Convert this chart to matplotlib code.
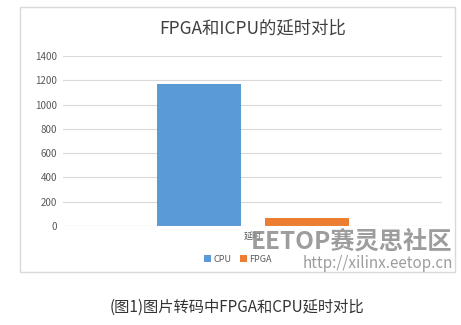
import matplotlib
matplotlib.use("Agg")
from matplotlib import pyplot as plt
from matplotlib.patches import Rectangle

plt.rcParams['font.family'] = ['Noto Sans CJK SC', 'DejaVu Sans']

category = ["延时"]
series = ["CPU", "FPGA"]
values = [1170, 65]
colors = ["#5b9bd5", "#ed7d31"]
yticks = [0, 200, 400, 600, 800, 1000, 1200, 1400]

W, H = 461, 325
fig = plt.figure(figsize=(W / 100, H / 100), dpi=100)

# chart frame
fig.patches.append(Rectangle((20 / W, 1 - 272 / H), 435 / W, 265 / H,
                             transform=fig.transFigure, fill=False,
                             edgecolor="#d9d9d9", linewidth=1))

ax = fig.add_axes([63 / W, 1 - 226 / H, 379 / W, 170 / H])
offsets = [-0.142, 0.143]
for name, v, c, off in zip(series, values, colors, offsets):
    ax.bar(0 + off, v, width=0.222, color=c, label=name, zorder=2)

ax.set_xlim(-0.5, 0.5)
ax.set_ylim(0, 1400)
ax.set_yticks(yticks)
ax.set_yticklabels([str(t) for t in yticks], fontsize=7, color="#595959")
ax.yaxis.grid(True, color="#d9d9d9", linewidth=0.8, zorder=0)
ax.set_xticks([0])
ax.set_xticklabels(category, fontsize=6.5, color="#595959")
ax.tick_params(length=0, pad=4)
for s in ax.spines.values():
    s.set_visible(False)
ax.axhline(0, color="#d9d9d9", linewidth=0.8)

fig.text(253 / W, 1 - 28 / H, "FPGA和ICPU的延时对比", ha="center", va="center",
         fontsize=12.5, color="#404040")

ax.legend(loc="center", bbox_to_anchor=(238 / W, 1 - 259 / H),
          bbox_transform=fig.transFigure, ncol=2, frameon=False,
          fontsize=6.5, handlelength=0.7, handleheight=0.7,
          columnspacing=1.0, handletextpad=0.3, labelcolor="#595959")

# watermark texts
fig.text(351 / W, 1 - 242 / H, "EETOP赛灵思社区", ha="center", va="center",
         fontsize=17.5, color="#8c8c8c", fontweight="bold", alpha=0.85)
fig.text(378 / W, 1 - 263 / H, "http://xilinx.eetop.cn", ha="center",
         va="center", fontsize=11, color="#8c8c8c", alpha=0.85)

fig.text(237 / W, 1 - 307 / H, "(图1)图片转码中FPGA和CPU延时对比", ha="center",
         va="center", fontsize=11, color="#333333")

fig.savefig("out.png", dpi=100)
